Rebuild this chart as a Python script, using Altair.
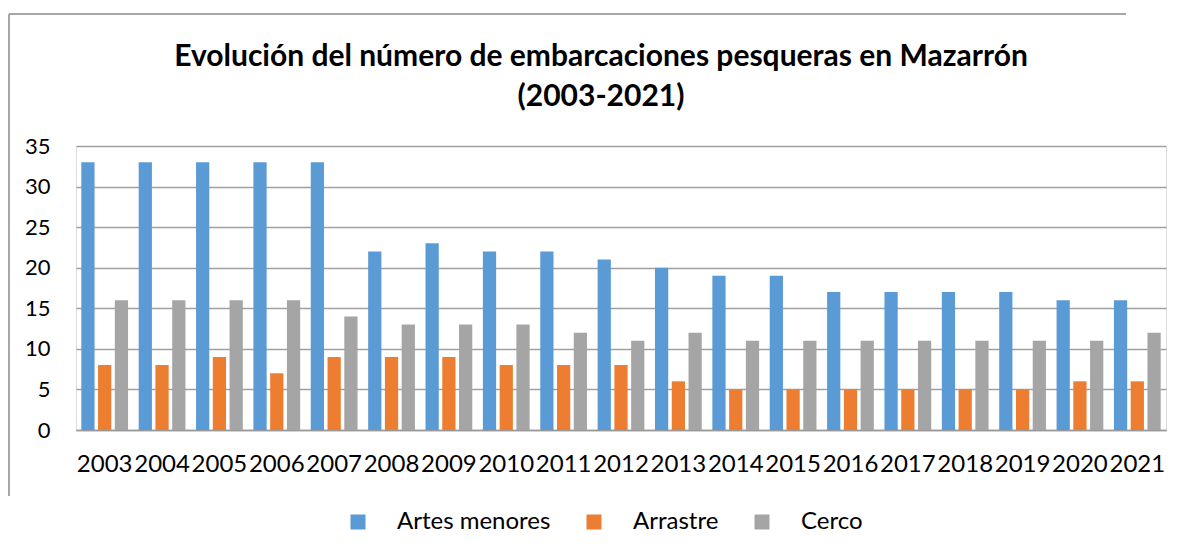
import altair as alt
import pandas as pd

years = [str(y) for y in range(2003, 2022)]
artes_menores = [33, 33, 33, 33, 33, 22, 23, 22, 22, 21, 20, 19, 19, 17, 17, 17, 17, 16, 16]
arrastre = [8, 8, 9, 7, 9, 9, 9, 8, 8, 8, 6, 5, 5, 5, 5, 5, 5, 6, 6]
cerco = [16, 16, 16, 16, 14, 13, 13, 13, 12, 11, 12, 11, 11, 11, 11, 11, 11, 11, 12]
series = ["Artes menores", "Arrastre", "Cerco"]
colors = ["#5B9BD5", "#ED7D31", "#A5A5A5"]

rows = []
for i, y in enumerate(years):
    for s, vals in zip(series, [artes_menores, arrastre, cerco]):
        rows.append({"Año": y, "Serie": s, "Valor": vals[i]})
df = pd.DataFrame(rows)

FONT = "Lato"
W, H = 1090, 284
PL, PT, PR, PB = 68, 138, 4, 106

bars = alt.Chart(df).mark_bar().encode(
    x=alt.X("Año:N", sort=years, title=None,
            scale=alt.Scale(paddingInner=0.185, paddingOuter=0.0925),
            axis=alt.Axis(labelAngle=0, ticks=False, labelPadding=22, labelFontSize=24,
                          labelColor="#000000", labelFont=FONT, domainColor="#999999",
                          domainWidth=1.5, grid=False)),
    xOffset=alt.XOffset("Serie:N", sort=series,
                        scale=alt.Scale(paddingInner=0.21, paddingOuter=0)),
    y=alt.Y("Valor:Q", title=None,
            scale=alt.Scale(domain=[0, 35], nice=False),
            axis=alt.Axis(values=[0, 5, 10, 15, 20, 25, 30, 35], domain=False, ticks=False,
                          labelPadding=26, labelFontSize=22, labelColor="#000000",
                          labelFont=FONT, gridColor="#a0a0a0", gridWidth=1.5)),
    color=alt.Color("Serie:N", sort=series,
                    scale=alt.Scale(domain=series, range=colors),
                    legend=alt.Legend(title=None, orient="none", direction="horizontal",
                                      legendX=270, legendY=364, padding=0,
                                      symbolType="square", symbolSize=225,
                                      symbolStrokeWidth=0, labelOffset=27,
                                      columnPadding=31, labelFontSize=24,
                                      labelFont=FONT, labelColor="#000000")),
)

one = pd.DataFrame({"a": [0]})
top_rule = alt.Chart(one).mark_rule(stroke="#a6a6a6", strokeWidth=2).encode(
    x=alt.value(-PL + 1), x2=alt.value(W - 40),
    y=alt.value(-PT + 6), y2=alt.value(-PT + 6),
)
left_rule = alt.Chart(one).mark_rule(stroke="#a6a6a6", strokeWidth=2).encode(
    x=alt.value(-PL + 1), x2=alt.value(-PL + 1),
    y=alt.value(-PT + 6), y2=alt.value(H + PB - 40),
)

chart = alt.layer(bars, top_rule, left_rule).properties(
    width=W, height=H,
    autosize=alt.AutoSizeParams(type="none"),
    padding={"left": PL, "top": PT, "right": PR, "bottom": PB},
    title=alt.TitleParams(
        ["Evolución del número de embarcaciones pesqueras en Mazarrón", "(2003-2021)"],
        font=FONT, fontSize=30, fontWeight="bold", color="#000000",
        anchor="middle", dx=-20, dy=134, offset=35, lineHeight=40,
    ),
).configure_view(stroke=None).configure(background="white")

chart.save("out.html", embed_options={"renderer": "svg", "actions": False})
